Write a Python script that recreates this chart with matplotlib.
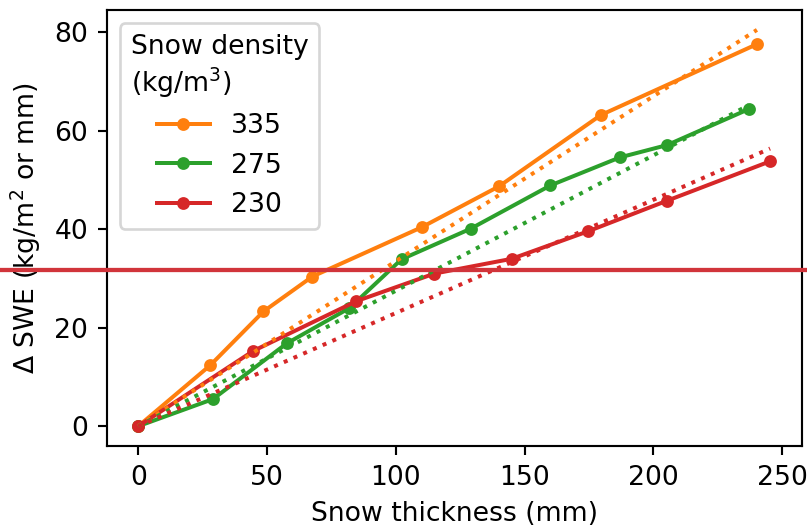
import matplotlib
matplotlib.use("Agg")
import matplotlib.pyplot as plt

# measured snow thickness (mm) and change in SWE for each density
x_335 = [0, 28, 48.6, 67.6, 110, 140, 179.6, 240.2]
y_335 = [0, 12.4, 23.3, 30.4, 40.4, 48.7, 63.2, 77.6]

x_275 = [0, 29, 57.6, 82, 102.2, 129, 160, 187, 205.3, 237]
y_275 = [0, 5.5, 16.8, 24.0, 33.9, 40.1, 48.9, 54.6, 57.1, 64.4]

x_230 = [0, 44.7, 84.7, 115, 145, 174.7, 205.3, 245.3]
y_230 = [0, 15.3, 25.4, 31.0, 34.0, 39.6, 45.8, 53.8]

# dotted reference lines (start and end points)
ref_335_x = [0, 240.2]
ref_335_y = [0, 80.5]
ref_275_x = [0, 237]
ref_275_y = [0, 65.2]
ref_230_x = [0, 245.3]
ref_230_y = [0, 56.4]

# level of the horizontal marker line
hline_y = 31.8

dpi = 192
fig = plt.figure(figsize=(807 / dpi, 530 / dpi), dpi=dpi)
ax = fig.add_subplot(111)
fig.subplots_adjust(left=0.1322, right=0.9934, bottom=0.1585, top=0.981)

ax.plot(x_335, y_335, "o-", color="tab:orange", ms=3.8, label="335")
ax.plot(x_275, y_275, "o-", color="tab:green", ms=3.8, label="275")
ax.plot(x_230, y_230, "o-", color="tab:red", ms=3.8, label="230")

ax.plot(ref_335_x, ref_335_y, ":", color="tab:orange")
ax.plot(ref_275_x, ref_275_y, ":", color="tab:green")
ax.plot(ref_230_x, ref_230_y, ":", color="tab:red")

ax.set_xlabel("Snow thickness (mm)")
ax.set_ylabel("Δ SWE (kg/m$^2$ or mm)")
ax.set_xticks([0, 50, 100, 150, 200, 250])
ax.set_yticks([0, 20, 40, 60, 80])

leg = ax.legend(title="Snow density\n(kg/m$^3$)", loc="upper left")
leg.get_title().set_multialignment("left")

# line across the whole figure
ax.axhline(hline_y, xmin=-1, xmax=2, color="#d1343b", lw=1.6, clip_on=False, zorder=10)

fig.savefig("out.png", dpi=dpi)
